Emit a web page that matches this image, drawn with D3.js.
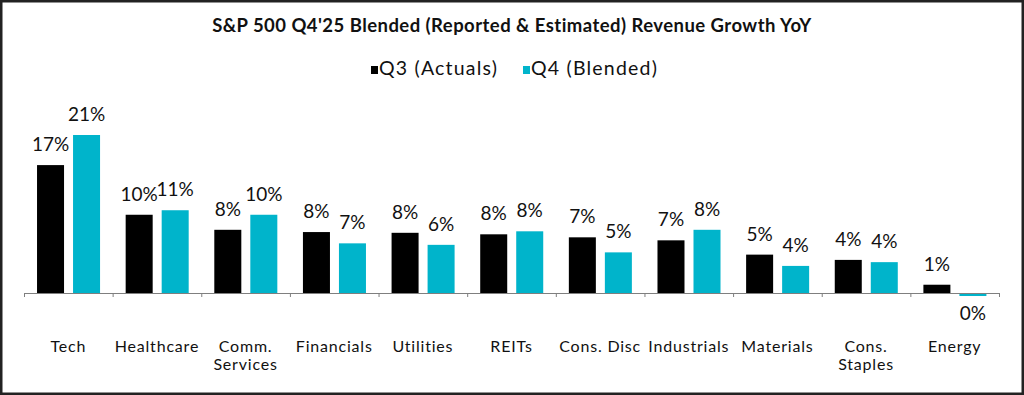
<!DOCTYPE html>
<html>
<head>
<meta charset="utf-8">
<script src="https://cdn.jsdelivr.net/npm/d3@7"></script>
<style>
  body { margin: 0; background: #fff; }
  .axis path, .axis line { stroke: #7f7f7f; }
</style>
</head>
<body>
<div id="chart"></div>
<script>
// data
var sectors = ["Tech", "Healthcare", "Comm. Services", "Financials", "Utilities", "REITs",
               "Cons. Disc", "Industrials", "Materials", "Cons. Staples", "Energy"];
// line breaks for the category labels
var sectorLines = [["Tech"], ["Healthcare"], ["Comm.", "Services"], ["Financials"], ["Utilities"], ["REITs"],
                   ["Cons. Disc"], ["Industrials"], ["Materials"], ["Cons.", "Staples"], ["Energy"]];
var q3 = [17.0, 10.4, 8.4, 8.1, 8.0, 7.8, 7.4, 7.0, 5.1, 4.4, 1.1];
var q4 = [21.0, 11.0, 10.4, 6.6, 6.4, 8.2, 5.4, 8.4, 3.6, 4.1, -0.4];
var seriesNames = ["Q3 (Actuals)", "Q4 (Blended)"];
var seriesColors = ["#000000", "#00b4cb"];

var width = 1024, height = 395;
var font = "Lato, 'Open Sans', sans-serif";

var svg = d3.select("#chart").append("svg")
  .attr("width", width)
  .attr("height", height)
  .style("font-family", font);

svg.append("rect")
  .attr("width", width).attr("height", height)
  .attr("fill", "#fff");

// outer frame
svg.append("rect")
  .attr("x", 1.25).attr("y", 1.25)
  .attr("width", width - 2.5).attr("height", height - 2.5)
  .attr("fill", "none")
  .attr("stroke", "#222")
  .attr("stroke-width", 2.5);

// scales
var x0 = d3.scaleBand().domain(sectors).range([24, 999]).padding(0);
var x1 = d3.scaleBand().domain([0, 1])
  .range([x0.bandwidth() * 0.147, x0.bandwidth() * 0.858])
  .paddingInner(0.25);
var y = d3.scaleLinear().domain([0, 21]).range([293, 135]);

// build rows for the bars
var rows = [];
sectors.forEach(function(s, i) {
  rows.push({ sector: s, k: 0, value: q3[i] });
  rows.push({ sector: s, k: 1, value: q4[i] });
});

// bars
svg.append("g").selectAll("rect")
  .data(rows)
  .join("rect")
  .attr("x", function(d) { return x0(d.sector) + x1(d.k); })
  .attr("y", function(d) { return y(Math.max(0, d.value)); })
  .attr("width", x1.bandwidth())
  .attr("height", function(d) { return Math.abs(y(d.value) - y(0)); })
  .attr("fill", function(d) { return seriesColors[d.k]; });

// value labels
svg.append("g").selectAll("text")
  .data(rows)
  .join("text")
  .attr("x", function(d) { return x0(d.sector) + x1(d.k) + x1.bandwidth() / 2; })
  .attr("y", function(d) { return d.value >= 0 ? y(d.value) - 14 : y(d.value) + 24; })
  .attr("text-anchor", "middle")
  .style("font-size", "19px")
  .attr("fill", "#111")
  .text(function(d) { return Math.round(d.value) + "%"; });

// axis with ticks on the band edges
var edge = d3.scaleLinear().domain([0, sectors.length]).range([24, 999]);
svg.append("g")
  .attr("class", "axis")
  .attr("transform", "translate(0," + y(0) + ")")
  .call(d3.axisBottom(edge).tickValues(d3.range(sectors.length + 1))
    .tickFormat("").tickSize(4).tickSizeOuter(0))
  .select(".domain").attr("stroke-width", 1.2);

// category labels, one text per line
sectors.forEach(function(s, i) {
  var cx = x0(s) + x0.bandwidth() / 2;
  sectorLines[i].forEach(function(l, j) {
    svg.append("text")
      .attr("x", cx)
      .attr("y", 352 + j * 18)
      .attr("text-anchor", "middle")
      .style("font-size", "16px")
      .style("letter-spacing", "0.8px")
      .attr("fill", "#111")
      .text(l);
  });
});

// title
svg.append("text")
  .attr("x", 512).attr("y", 32)
  .attr("text-anchor", "middle")
  .style("font-size", "18.5px")
  .style("letter-spacing", "0.45px")
  .style("font-weight", "bold")
  .attr("fill", "#111")
  .text("S&P 500 Q4'25 Blended (Reported & Estimated) Revenue Growth YoY");

// legend
var legendX = [371, 523];
seriesNames.forEach(function(n, i) {
  svg.append("rect")
    .attr("x", legendX[i]).attr("y", 66)
    .attr("width", 7).attr("height", 8)
    .attr("fill", seriesColors[i]);
  svg.append("text")
    .attr("x", legendX[i] + 8).attr("y", 75)
    .style("font-size", "19.5px")
    .style("letter-spacing", "1.2px")
    .attr("fill", "#111")
    .text(n);
});
</script>
</body>
</html>
